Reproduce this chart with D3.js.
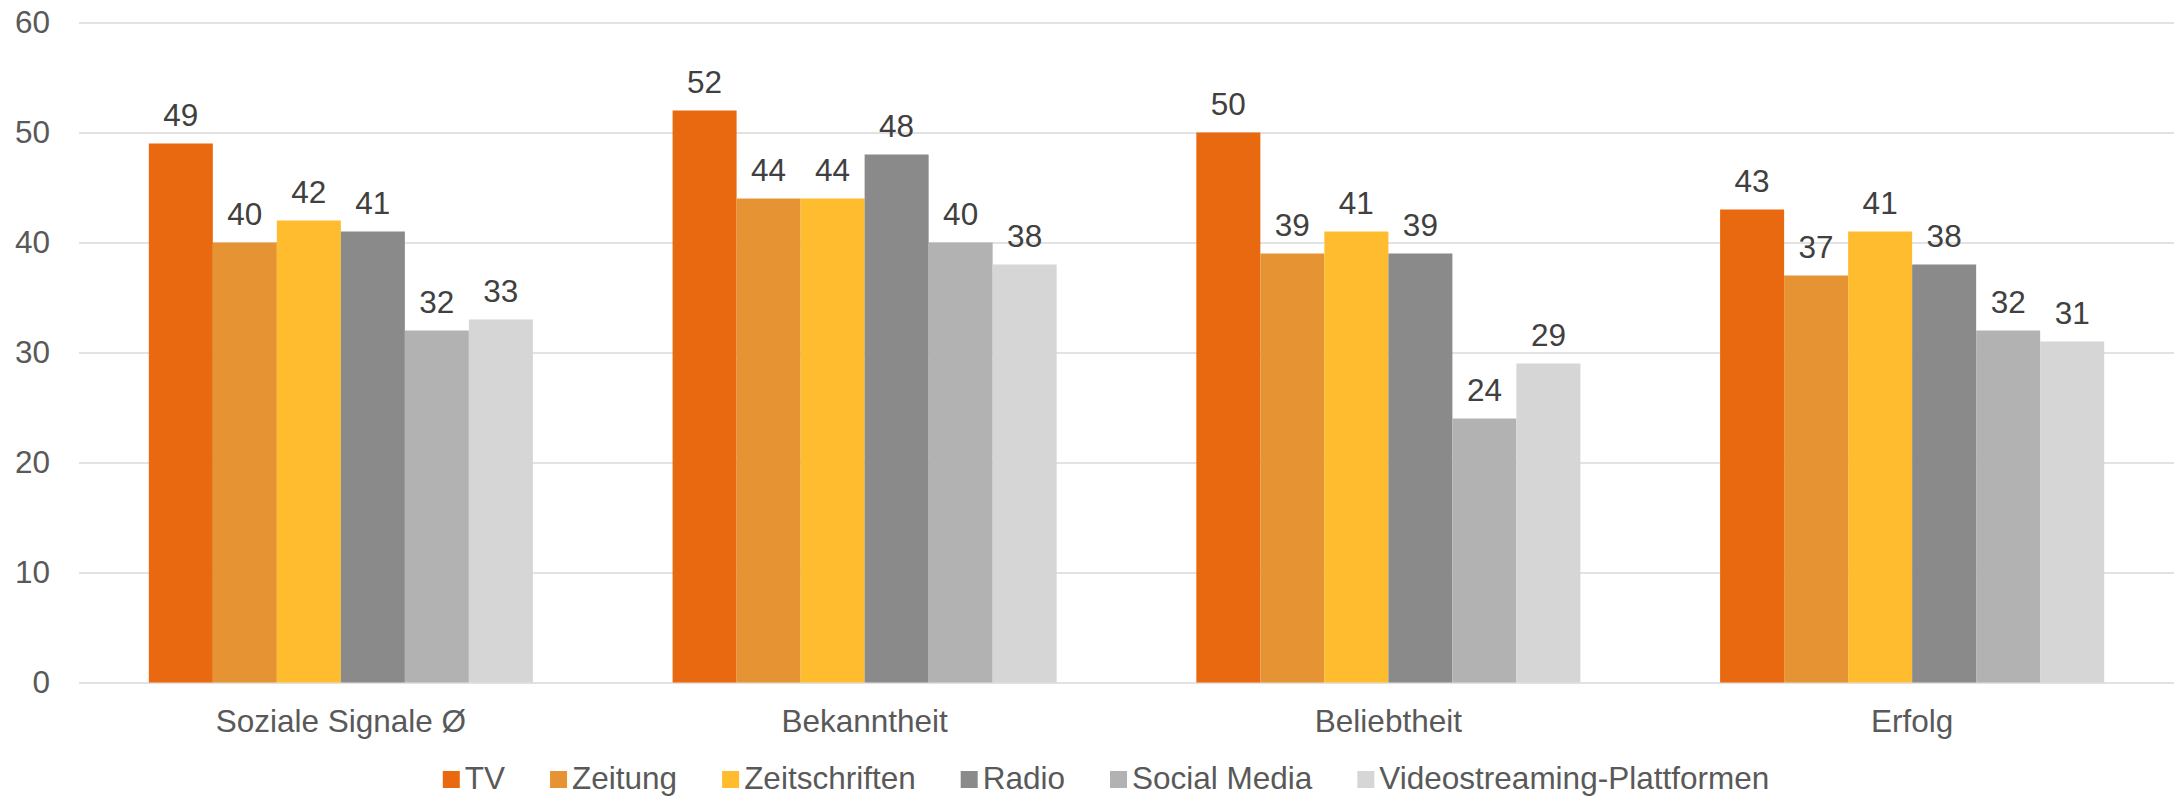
<!DOCTYPE html>
<html>
<head>
<meta charset="utf-8">
<script src="https://cdn.jsdelivr.net/npm/d3@7"></script>
<style>
  html, body { margin: 0; padding: 0; background: #fff; }
  svg { display: block; font-family: "Liberation Sans", Arial, sans-serif; }
</style>
</head>
<body>
<svg id="chart" width="2174" height="797"></svg>
<script>
const categories = ["Soziale Signale Ø", "Bekanntheit", "Beliebtheit", "Erfolg"];
const seriesNames = ["TV", "Zeitung", "Zeitschriften", "Radio", "Social Media", "Videostreaming-Plattformen"];
const tvValues = [49, 52, 50, 43];
const zeitungValues = [40, 44, 39, 37];
const zeitschriftenValues = [42, 44, 41, 41];
const radioValues = [41, 48, 39, 38];
const socialMediaValues = [32, 40, 24, 32];
const videoValues = [33, 38, 29, 31];
const yTicks = [0, 10, 20, 30, 40, 50, 60];
const colors = ["#E8690F", "#E69333", "#FEBC2E", "#8A8A8A", "#B2B2B2", "#D6D6D6"];

(function () {
const seriesValues = [tvValues, zeitungValues, zeitschriftenValues, radioValues, socialMediaValues, videoValues];
const data = categories.map((c, i) => ({
  category: c,
  values: seriesNames.map((s, j) => ({ series: s, value: seriesValues[j][i], idx: j }))
}));

const svg = d3.select("#chart");
const mLeft = 79, mRight = 2174, mTop = 22.5, mBottom = 682.5;
const fontSize = 31.5;

const y = d3.scaleLinear().domain([0, 60]).range([mBottom, mTop]);
const x0 = d3.scaleBand().domain(categories).range([mLeft, mRight])
  .paddingInner(0.2667).paddingOuter(0.1333);
const x1 = d3.scaleBand().domain(seriesNames).range([0, x0.bandwidth()]).padding(0);
const color = d3.scaleOrdinal().domain(seriesNames).range(colors);

// Y axis with gridlines
const yAxis = svg.append("g")
  .attr("transform", `translate(${mLeft},0)`)
  .call(d3.axisLeft(y).tickValues(yTicks).tickSize(-(mRight - mLeft)).tickPadding(29));
yAxis.select(".domain").remove();
yAxis.selectAll(".tick line").attr("stroke", "#D9D9D9").attr("stroke-width", 1.5);
yAxis.selectAll(".tick text")
  .attr("fill", "#595959")
  .style("font-size", fontSize + "px")
  .style("font-family", "'Liberation Sans', Arial, sans-serif");

// Bars
const groups = svg.append("g").selectAll("g")
  .data(data).join("g")
  .attr("transform", d => `translate(${x0(d.category)},0)`);

groups.selectAll("rect")
  .data(d => d.values).join("rect")
  .attr("x", d => x1(d.series))
  .attr("width", x1.bandwidth())
  .attr("y", d => y(d.value))
  .attr("height", d => y(0) - y(d.value))
  .attr("fill", d => color(d.series));

groups.selectAll("text.val")
  .data(d => d.values).join("text")
  .attr("class", "val")
  .attr("x", d => x1(d.series) + x1.bandwidth() / 2)
  .attr("y", d => y(d.value) - 18)
  .attr("text-anchor", "middle")
  .attr("fill", "#404040")
  .style("font-size", fontSize + "px")
  .text(d => d.value);

// Category axis
const xAxis = svg.append("g")
  .attr("transform", `translate(0,${mBottom})`)
  .call(d3.axisBottom(x0).tickSize(0).tickPadding(0));
xAxis.select(".domain").remove();
xAxis.selectAll(".tick text")
  .attr("y", 732 - mBottom)
  .attr("dy", 0)
  .attr("fill", "#595959")
  .style("font-size", fontSize + "px")
  .style("font-family", "'Liberation Sans', Arial, sans-serif");

// Legend
const legend = svg.append("g");
const sq = 17, sqGap = 5, itemGap = 45, baseline = 789;
let cx = 0;
const items = legend.selectAll("g").data(seriesNames).join("g");
items.append("rect")
  .attr("width", sq).attr("height", sq)
  .attr("y", baseline - 18)
  .attr("fill", d => color(d));
items.append("text")
  .attr("x", sq + sqGap)
  .attr("y", baseline)
  .attr("fill", "#595959")
  .style("font-size", fontSize + "px")
  .text(d => d);
items.each(function() {
  const g = d3.select(this);
  const w = g.select("text").node().getComputedTextLength();
  g.attr("transform", `translate(${cx},0)`);
  cx += sq + sqGap + w + itemGap;
});
const totalW = cx - itemGap;
legend.attr("transform", `translate(${1106 - totalW / 2},0)`);
})();
</script>
</body>
</html>
